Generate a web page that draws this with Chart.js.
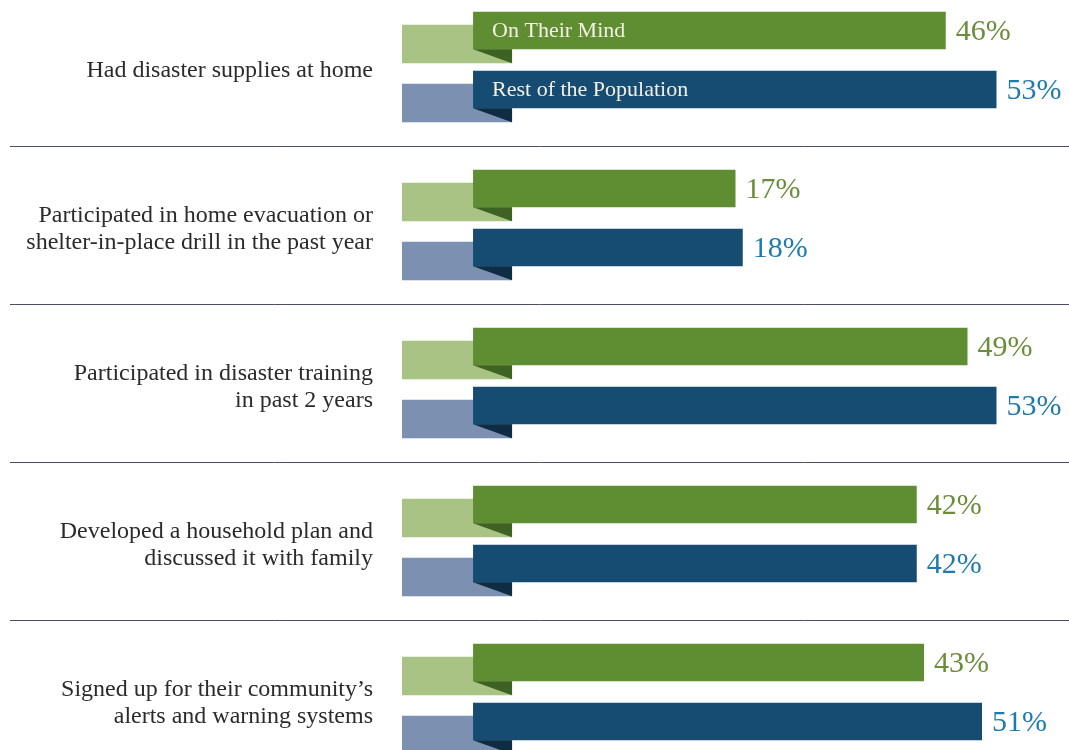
<!DOCTYPE html>
<html>
<head>
<meta charset="utf-8">
<script src="https://cdn.jsdelivr.net/npm/chart.js@4.4.1/dist/chart.umd.min.js"></script>
<style>
    html, body { margin: 0; padding: 0; background: #fff; overflow: hidden; }
    #wrap { position: absolute; left: 0; top: -19px; width: 1069px; height: 790px; }
</style>
</head>
<body>
<div id="wrap"><canvas id="grafico"></canvas></div>
<script>
const categorias = [
    'Had disaster supplies at home',
    ['Participated in home evacuation or', 'shelter-in-place drill in the past year'],
    ['Participated in disaster training', 'in past 2 years'],
    ['Developed a household plan and', 'discussed it with family'],
    ["Signed up for their community\u2019s", 'alerts and warning systems']
];
const onTheirMind = [46, 17, 49, 42, 43];
const restPopulation = [53, 18, 53, 42, 51];
const serieNomes = ['On Their Mind', 'Rest of the Population'];

const fonte = "'Liberation Serif', 'DejaVu Serif', serif";
const cores = [
    { barra: '#5f8e32', cauda: '#a9c385', dobra: '#3e6223', texto: '#6b8d3b' },
    { barra: '#164c72', cauda: '#7c90b1', dobra: '#0e2d45', texto: '#1f7ab0' }
];

// fitas: cauda clara atras e dobra escura embaixo da barra
const fitaPlugin = {
    id: 'fita',
    beforeDatasetsDraw(chart) {
        const ctx = chart.ctx;
        const left = chart.chartArea.left;
        chart.data.datasets.forEach((ds, di) => {
            chart.getDatasetMeta(di).data.forEach(bar => {
                const top = bar.y - bar.height / 2;
                const bot = bar.y + bar.height / 2;
                ctx.fillStyle = cores[di].cauda;
                ctx.fillRect(left, top + 13, bar.base + 39 - left, bot + 14 - (top + 13));
            });
        });
    },
    afterDatasetsDraw(chart) {
        const ctx = chart.ctx;
        chart.data.datasets.forEach((ds, di) => {
            chart.getDatasetMeta(di).data.forEach((bar, i) => {
                const bot = bar.y + bar.height / 2;
                ctx.fillStyle = cores[di].dobra;
                ctx.beginPath();
                ctx.moveTo(bar.base, bot);
                ctx.lineTo(bar.base + 39, bot);
                ctx.lineTo(bar.base + 39, bot + 14);
                ctx.closePath();
                ctx.fill();

                // valores
                ctx.font = '30px ' + fonte;
                ctx.fillStyle = cores[di].texto;
                ctx.textAlign = 'left';
                ctx.textBaseline = 'middle';
                ctx.fillText(ds.data[i] + '%', bar.x + 10, bar.y + 2);

                // nome da serie dentro da primeira barra
                if (i === 0) {
                    ctx.font = '22px ' + fonte;
                    ctx.fillStyle = '#f3f0e2';
                    ctx.fillText(ds.label, bar.base + 19, bar.y + 1);
                }
            });
        });

        // linhas separadoras
        const y = chart.scales.y;
        ctx.strokeStyle = '#4b4f63';
        ctx.lineWidth = 1;
        for (let i = 0; i < categorias.length - 1; i++) {
            const py = Math.round((y.getPixelForValue(i) + y.getPixelForValue(i + 1)) / 2 + 7) + 0.5;
            ctx.beginPath();
            ctx.moveTo(10, py);
            ctx.lineTo(chart.width, py);
            ctx.stroke();
        }
    }
};

new Chart(document.getElementById('grafico'), {
    type: 'bar',
    data: {
        labels: categorias,
        datasets: [
            { label: serieNomes[0], data: onTheirMind, backgroundColor: cores[0].barra },
            { label: serieNomes[1], data: restPopulation, backgroundColor: cores[1].barra }
        ]
    },
    options: {
        indexAxis: 'y',
        responsive: true,
        maintainAspectRatio: false,
        animation: false,
        categoryPercentage: 0.747,
        barPercentage: 0.636,
        base: -19.2,
        layout: { padding: 0 },
        plugins: { legend: { display: false }, tooltip: { enabled: false } },
        scales: {
            x: { display: false, min: -29, max: 63 },
            y: {
                grid: { display: false, drawTicks: false },
                border: { display: false },
                afterFit: s => { s.width = 402; s.paddingTop = 0; s.paddingBottom = 0; },
                ticks: {
                    padding: 29,
                    labelOffset: 11,
                    color: '#2b2b2b',
                    font: { family: fonte, size: 24, lineHeight: 1.13 }
                }
            }
        }
    },
    plugins: [fitaPlugin]
});
</script>
</body>
</html>
